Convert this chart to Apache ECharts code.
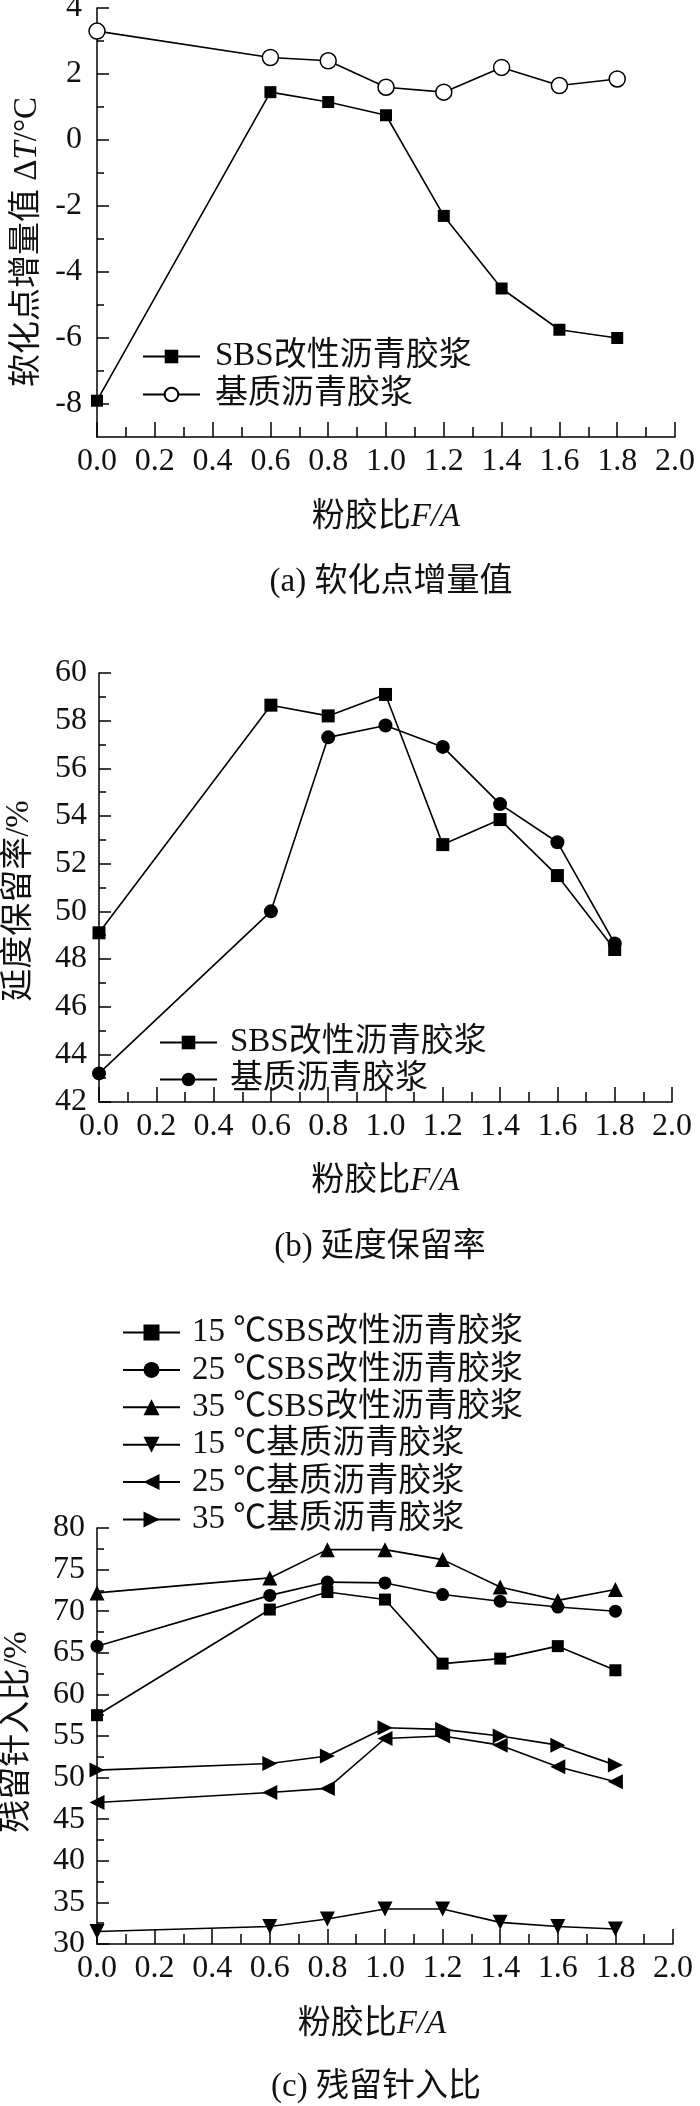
<!DOCTYPE html>
<html>
<head>
<meta charset="utf-8">
<title>粉胶比对胶浆性能的影响</title>
<script src="https://cdn.jsdelivr.net/npm/echarts@6/dist/echarts.min.js"></script>
<style>
  html, body { margin: 0; padding: 0; background: #fff; }
  #chart { width: 700px; height: 2106px; }
</style>
</head>
<body>
<div id="chart"></div>
<script>
// 粉胶比 F/A
const ratio = [0, 0.6, 0.8, 1.0, 1.2, 1.4, 1.6, 1.8];

// (a) 软化点增量值 ΔT/°C
const softSbs  = [-7.9, 1.45, 1.15, 0.75, -2.3, -4.5, -5.75, -6.0];
const softBase = [3.3, 2.5, 2.4, 1.6, 1.45, 2.2, 1.65, 1.85];
const softTicks = [-8, -6, -4, -2, 0, 2, 4];
const softMinorTicks = [-7, -5, -3, -1, 1, 3];

// (b) 延度保留率/%
const ductSbs  = [49.1, 58.65, 58.2, 59.1, 52.8, 53.85, 51.5, 48.4];
const ductBase = [43.2, 50.0, 57.3, 57.8, 56.9, 54.5, 52.9, 48.65];

// (c) 残留针入比/%
const pen15Sbs  = [57.5, 70.2, 72.3, 71.4, 63.7, 64.3, 65.8, 62.9];
const pen25Sbs  = [65.8, 71.9, 73.5, 73.4, 72.0, 71.2, 70.5, 70.0];
const pen35Sbs  = [72.2, 74.0, 77.4, 77.4, 76.2, 72.9, 71.3, 72.6];
const pen15Base = [31.5, 32.1, 33.0, 34.2, 34.2, 32.6, 32.1, 31.8];
const pen25Base = [47.0, 48.2, 48.7, 54.7, 55.0, 53.9, 51.3, 49.5];
const pen35Base = [50.9, 51.7, 52.6, 56.0, 55.8, 55.0, 53.9, 51.5];

const FONT = "'Liberation Serif', 'Noto Sans CJK SC', serif";
const INK = '#111';
const AXIS = { color: '#000', width: 1.5 };

function pairs(ys) {
    return ratio.map((x, i) => [x, ys[i]]);
}

// series names carry a panel prefix so each legend finds its own series
function line(name, ys, idx, symbol, size, extra) {
    return Object.assign({
        type: 'line',
        name: name,
        xAxisIndex: idx,
        yAxisIndex: idx,
        data: pairs(ys),
        symbol: symbol,
        symbolSize: size,
        showAllSymbol: true,
        lineStyle: { color: '#000', width: 1.6 },
        itemStyle: { color: '#000' },
        emphasis: { disabled: true },
        animation: false
    }, extra || {});
}

function xAxis(idx, nameGap, namePad) {
    return {
        type: 'value',
        gridIndex: idx,
        min: 0,
        max: 2,
        interval: 0.2,
        axisLine: { show: true, onZero: false, lineStyle: AXIS },
        axisTick: { show: true, inside: true, length: 15, lineStyle: AXIS },
        minorTick: { show: true, splitNumber: 2, length: 10, lineStyle: AXIS },
        splitLine: { show: false },
        axisLabel: {
            margin: 9, fontFamily: FONT, fontSize: 32, color: INK,
            formatter: v => v.toFixed(1)
        },
        name: '粉胶比{i|F/A}',
        nameLocation: 'middle',
        nameGap: nameGap,
        nameTextStyle: {
            fontFamily: FONT, fontSize: 33, color: INK, padding: namePad || 0,
            rich: { i: { fontFamily: FONT, fontSize: 33, fontStyle: 'italic', color: INK } }
        }
    };
}

function yAxis(idx, min, max, interval, margin) {
    return {
        type: 'value',
        gridIndex: idx,
        position: 'left',
        min: min,
        max: max,
        interval: interval,
        axisLine: { show: true, lineStyle: AXIS },
        axisTick: { show: true, inside: true, length: 12, lineStyle: AXIS },
        minorTick: { show: true, splitNumber: 2, length: 7, lineStyle: AXIS },
        splitLine: { show: false },
        axisLabel: { margin: margin, fontFamily: FONT, fontSize: 32, color: INK }
    };
}

// (a) 轴：偶数为主刻度并标注，奇数为次刻度
const softAxis = yAxis(0, -9, 4, 1, 15);
softAxis.minorTick = { show: false };
softAxis.axisTick.customValues = softTicks;
softAxis.axisLabel.customValues = softTicks;

const softMinorAxis = {
    type: 'value',
    gridIndex: 0,
    position: 'left',
    offset: 0,
    min: -9,
    max: 4,
    interval: 1,
    axisLine: { show: false },
    axisTick: { show: true, inside: true, length: 7, lineStyle: AXIS, customValues: softMinorTicks },
    axisLabel: { show: false },
    splitLine: { show: false }
};

function legend(left, top, gap, itemHeight, textPad, names) {
    return {
        orient: 'vertical',
        left: left,
        top: top,
        itemWidth: 57,
        itemHeight: itemHeight,
        itemGap: gap,
        selectedMode: false,
        textStyle: { fontFamily: FONT, fontSize: 33, color: INK, padding: [0, 0, 0, textPad] },
        formatter: n => n.replace(/^\(\w\)/, ''),
        data: names
    };
}

function caption(x, y, text) {
    return {
        type: 'text', x: x, y: y,
        style: { text: text, fontFamily: FONT, fontSize: 33, fill: INK, align: 'center', verticalAlign: 'middle' }
    };
}

function yTitle(x, y, text) {
    return {
        type: 'text', x: x, y: y, rotation: Math.PI / 2,
        style: {
            text: text, fontFamily: FONT, fontSize: 33, fill: INK, align: 'center', verticalAlign: 'middle',
            rich: { i: { fontFamily: FONT, fontSize: 33, fontStyle: 'italic', fill: INK } }
        }
    };
}

const chart = echarts.init(document.getElementById('chart'), null, { renderer: 'canvas' });

chart.setOption({
    backgroundColor: '#fff',
    animation: false,
    grid: [
        { left: 97, top: 8, width: 578, height: 429, containLabel: false, outerBoundsMode: 'none' },
        { left: 99, top: 673, width: 573, height: 429, containLabel: false, outerBoundsMode: 'none' },
        { left: 97, top: 1528, width: 576, height: 416, containLabel: false, outerBoundsMode: 'none' }
    ],
    xAxis: [xAxis(0, 64), xAxis(1, 63), xAxis(2, 64, [0, 26, 0, 0])],
    yAxis: [
        softAxis,
        yAxis(1, 42, 60, 2, 12),
        yAxis(2, 30, 80, 5, 12),
        softMinorAxis
    ],
    legend: [
        legend(137, 335, 5, 17, 10, ['(a)SBS改性沥青胶浆', '(a)基质沥青胶浆']),
        legend(154, 1021, 4, 17, 8, ['(b)SBS改性沥青胶浆', '(b)基质沥青胶浆']),
        legend(117, 1311, 4.4, 20, 7, [
            '(c)15 ℃SBS改性沥青胶浆', '(c)25 ℃SBS改性沥青胶浆', '(c)35 ℃SBS改性沥青胶浆',
            '(c)15 ℃基质沥青胶浆', '(c)25 ℃基质沥青胶浆', '(c)35 ℃基质沥青胶浆'
        ])
    ],
    series: [
        line('(a)SBS改性沥青胶浆', softSbs, 0, 'rect', 12),
        line('(a)基质沥青胶浆', softBase, 0, 'circle', 16, {
            itemStyle: { color: '#fff', borderColor: '#000', borderWidth: 1.5 }
        }),
        line('(b)SBS改性沥青胶浆', ductSbs, 1, 'rect', 13),
        line('(b)基质沥青胶浆', ductBase, 1, 'circle', 14),
        line('(c)15 ℃SBS改性沥青胶浆', pen15Sbs, 2, 'rect', 12),
        line('(c)25 ℃SBS改性沥青胶浆', pen25Sbs, 2, 'circle', 13),
        line('(c)35 ℃SBS改性沥青胶浆', pen35Sbs, 2, 'triangle', 15),
        line('(c)15 ℃基质沥青胶浆', pen15Base, 2, 'triangle', 15, { symbolRotate: 180 }),
        line('(c)25 ℃基质沥青胶浆', pen25Base, 2, 'triangle', 15, { symbolRotate: 90 }),
        line('(c)35 ℃基质沥青胶浆', pen35Base, 2, 'triangle', 15, { symbolRotate: -90 })
    ],
    graphic: [
        yTitle(27, 242, '软化点增量值 Δ{i|T}/°C'),
        yTitle(19, 901, '延度保留率/%'),
        yTitle(17, 1732, '残留针入比/%'),
        caption(391, 582, '(a) 软化点增量值'),
        caption(380, 1247, '(b) 延度保留率'),
        caption(376, 2087, '(c) 残留针入比')
    ]
});
</script>
</body>
</html>
